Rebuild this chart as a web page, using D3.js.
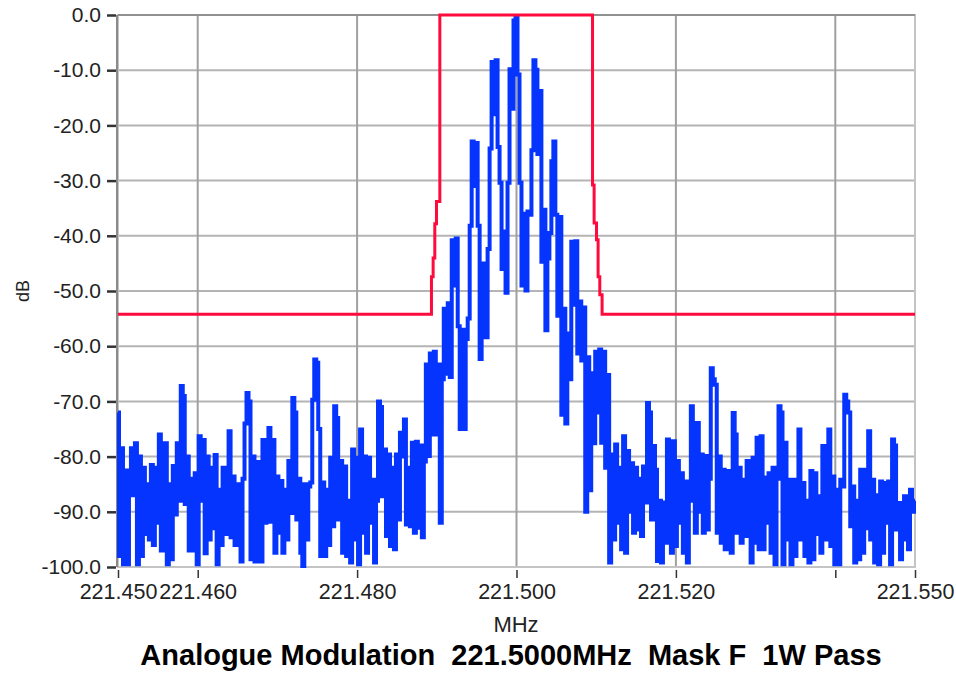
<!DOCTYPE html>
<html>
<head>
<meta charset="utf-8">
<script src="https://cdn.jsdelivr.net/npm/d3@7"></script>
<style>
  body { margin: 0; background: #fff; }
  svg { display: block; font-family: "Liberation Sans", Arial, sans-serif; }
</style>
</head>
<body>
<svg id="chart" width="956" height="675"></svg>
<script>
// x axis ticks (MHz); 221.540 has a tick but no label
const xTickValues = [221.45, 221.46, 221.48, 221.50, 221.52, 221.54, 221.55];
const xTickLabels = ["221.450", "221.460", "221.480", "221.500", "221.520", "", "221.550"];
const xGridValues = [221.46, 221.48, 221.50, 221.52, 221.54];

const yTickValues = [0, -10, -20, -30, -40, -50, -60, -70, -80, -90, -100];
const yTickLabels = ["0.0", "-10.0", "-20.0", "-30.0", "-40.0", "-50.0", "-60.0", "-70.0", "-80.0", "-90.0", "-100.0"];

// spectrum trace, one value every 0.25 kHz from 221.450 MHz
const freqStart = 221.45;
const freqStep = 0.00025;
const spectrumDb = [
    -72, -98, -78.5, -99.5, -82.5, -99.5, -87, -78.5, -87, -77.6,
    -99.5, -80, -98, -82, -94, -85, -95, -81.5, -96, -82,
    -92, -76, -97, -80, -77.6, -99.5, -85, -98.6, -81.7, -90.5,
    -77.6, -88, -67.2, -69, -88.6, -80, -97, -84, -97, -83,
    -99.5, -76.3, -88, -77, -97.5, -80, -95, -82, -93, -79.7,
    -99.5, -86, -96, -82, -94, -84, -75.4, -94.6, -83.6, -96,
    -85, -92, -99, -84, -74, -68.5, -70, -98.6, -80, -99,
    -81, -95, -99, -77, -92, -85, -74.8, -91.8, -77, -97.4,
    -83.6, -93.8, -84.4, -97.4, -86, -95, -80.8, -90.2, -69.4, -72,
    -91.4, -84, -97.4, -99.8, -85, -95, -85.4, -84.7, -69.7, -62.4,
    -63, -75, -98, -84.7, -98, -86, -96, -80.2, -92.6, -70.9,
    -73, -91.4, -80.8, -97.4, -81.8, -98, -88, -99.2, -78.7, -95,
    -80.2, -99.5, -75.1, -93.8, -80, -97.4, -80.2, -92, -84.2, -99.2,
    -88, -70, -71, -87.2, -78.7, -94.4, -79.6, -96.2, -82, -96.8,
    -79.6, -91.4, -75.7, -80, -73.3, -92.3, -82, -92.6, -77.5, -93.8,
    -77.3, -92.9, -78, -94.6, -80.9, -63.3, -79.9, -61.3, -76, -61,
    -76, -63.3, -92, -66, -53.2, -65, -52.2, -65.6, -40.8, -49,
    -40.5, -56.4, -75, -57, -75, -58.7, -55, -38.2, -22.9, -31,
    -23.2, -38.2, -62.3, -58.4, -45, -58.4, -42.4, -24.2, -8.5, -18,
    -8.2, -23.9, -30.4, -46, -39.2, -50.3, -30.4, -9.85, -17, -1,
    -0.4, -10.8, -30.4, -49, -36, -49.9, -35.6, -36.2, -24.5, -8.2,
    -9.9, -25.2, -13.75, -44.7, -35.3, -57.1, -44.1, -39.5, -26.5, -22.9,
    -36.2, -54.5, -36.6, -72.4, -53.2, -74, -57.7, -66, -41.1, -52.5,
    -41, -61.3, -51.9, -62.6, -53, -90, -62, -86.1, -64.9, -77.6,
    -61, -72, -60.6, -77.5, -61, -82, -65.2, -99.2, -79.6, -95,
    -77.8, -92, -82, -96.8, -76.3, -97.4, -79, -90, -81.2, -93.8,
    -82, -93.2, -84, -94.4, -81.8, -88.3, -70.3, -72, -91.4, -78.1,
    -82.4, -98.9, -88, -99.2, -88.3, -95.6, -76.9, -85, -97.4, -77.2,
    -96.2, -80.8, -92, -83, -97.4, -84.5, -99.2, -88, -70.9, -74,
    -93.8, -73.9, -90, -79.6, -93.8, -79.9, -93.2, -84, -64, -66,
    -67, -93.8, -80, -95.6, -82.4, -96.8, -82.6, -92, -97.4, -72.1,
    -76, -93.8, -82, -95.6, -84.2, -94.4, -80.8, -90, -99.2, -80.2,
    -95.6, -76.6, -96.8, -76.3, -96.8, -83.8, -92, -83, -97.4, -82,
    -99.5, -84, -70.9, -72, -99.5, -77.5, -95, -84.2, -99.5, -84.2,
    -98, -90, -75.1, -95, -84.8, -98, -88, -99.2, -82.6, -98.6,
    -83, -94, -87.2, -97.4, -78.1, -95, -85, -75.1, -96.2, -83.6,
    -99.5, -86, -99.5, -84.2, -85.4, -68.8, -70, -72, -92.6, -85.4,
    -99.2, -88, -98.6, -82.4, -97.4, -82.4, -93, -75.4, -95, -84.2,
    -99.2, -87, -99.5, -84.5, -97.4, -84.8, -92, -84.5, -99.5, -76.9,
    -78, -93.2, -88.4, -98.6, -92, -87.2, -95, -96.8, -86, -90,
    -88
];

// spectrum mask (red)
const maskFreq = [221.45, 221.48933, 221.48933, 221.48954, 221.48954, 221.48975, 221.48975,
    221.48996, 221.48996, 221.49038, 221.49038, 221.50954, 221.50954, 221.50974, 221.50974,
    221.51004, 221.51004, 221.51024, 221.51024, 221.51045, 221.51045, 221.51074, 221.51074, 221.55];
const maskDb = [-54.2, -54.2, -47.4, -47.4, -44.0, -44.0, -37.8, -37.8, -33.8, -33.8, 0, 0,
    -30.8, -30.8, -37.7, -37.7, -40.7, -40.7, -47.4, -47.4, -50.7, -50.7, -54.2, -54.2];

const titleText = "Analogue Modulation  221.5000MHz  Mask F  1W Pass";
const xTitle = "MHz";
const yTitle = "dB";

const plot = { left: 118, right: 915, top: 15, bottom: 567 };

const svg = d3.select("#chart");

const x = d3.scaleLinear().domain([221.45, 221.55]).range([plot.left, plot.right]);
const y = d3.scaleLinear().domain([-100, 0]).range([plot.bottom, plot.top]);

svg.append("rect").attr("width", 956).attr("height", 675).attr("fill", "#fff");

// grid
svg.append("g")
    .selectAll("line")
    .data(yTickValues.filter((d) => d < 0 && d > -100))
    .join("line")
    .attr("x1", plot.left).attr("x2", plot.right)
    .attr("y1", (d) => y(d)).attr("y2", (d) => y(d))
    .attr("stroke", "#b4b4b4").attr("stroke-width", 2);

svg.append("g")
    .selectAll("line")
    .data(xGridValues)
    .join("line")
    .attr("x1", (d) => x(d)).attr("x2", (d) => x(d))
    .attr("y1", plot.top).attr("y2", plot.bottom)
    .attr("stroke", "#a0a0a0").attr("stroke-width", 2);

// plot frame
svg.append("rect")
    .attr("x", plot.left).attr("y", plot.top)
    .attr("width", plot.right - plot.left).attr("height", plot.bottom - plot.top)
    .attr("fill", "none").attr("stroke", "#c4c4c4").attr("stroke-width", 2);
svg.append("line")
    .attr("x1", plot.left).attr("x2", plot.right)
    .attr("y1", plot.top).attr("y2", plot.top)
    .attr("stroke", "#909090").attr("stroke-width", 2);
svg.append("line")
    .attr("x1", plot.left - 1).attr("x2", plot.left - 1)
    .attr("y1", plot.top).attr("y2", plot.bottom)
    .attr("stroke", "#8a8a8a").attr("stroke-width", 2);

svg.append("defs").append("clipPath").attr("id", "clip")
    .append("rect")
    .attr("x", plot.left - 1).attr("y", plot.top - 2)
    .attr("width", plot.right - plot.left + 2).attr("height", plot.bottom - plot.top + 3);

// blue trace
const line = d3.line()
    .x((d, i) => x(freqStart + i * freqStep))
    .y((d) => y(Math.max(-100, d)))
    .curve(d3.curveStep);

svg.append("path")
    .datum(spectrumDb)
    .attr("clip-path", "url(#clip)")
    .attr("fill", "none")
    .attr("stroke", "#0534ff")
    .attr("stroke-width", 4)
    .attr("stroke-linejoin", "miter")
    .attr("d", line);

// red mask
const maskLine = d3.line()
    .x((d, i) => x(maskFreq[i]))
    .y((d) => y(d));

svg.append("path")
    .datum(maskDb)
    .attr("fill", "none")
    .attr("stroke", "#ff0a3c")
    .attr("stroke-width", 3)
    .attr("d", maskLine);

// y axis
const yAxis = d3.axisLeft(y)
    .tickValues(yTickValues)
    .tickFormat((d, i) => yTickLabels[i])
    .tickSize(12)
    .tickPadding(5);

const gy = svg.append("g")
    .attr("transform", `translate(${plot.left - 2},0)`)
    .call(yAxis);
gy.select(".domain").remove();
gy.selectAll(".tick line").attr("stroke", "#333").attr("stroke-width", 2.5).attr("x2", -9);
gy.selectAll(".tick text")
    .attr("x", -15)
    .attr("fill", "#222")
    .style("font-size", "21px")
    .style("font-family", "Liberation Sans, Arial, sans-serif");

// x axis
const xAxis = d3.axisBottom(x)
    .tickValues(xTickValues)
    .tickFormat((d, i) => xTickLabels[i])
    .tickSize(8)
    .tickPadding(6);

const gx = svg.append("g")
    .attr("transform", `translate(0,${plot.bottom + 3})`)
    .call(xAxis);
gx.select(".domain").remove();
gx.selectAll(".tick line").attr("stroke", "#333").attr("stroke-width", 1.5);
gx.selectAll(".tick text")
    .attr("fill", "#222")
    .style("font-size", "21.5px")
    .style("font-family", "Liberation Sans, Arial, sans-serif");

// axis titles
svg.append("text")
    .attr("x", 516).attr("y", 632)
    .attr("text-anchor", "middle")
    .attr("fill", "#222")
    .style("font-size", "22px")
    .text(xTitle);

svg.append("text")
    .attr("transform", "translate(29,291) rotate(-90)")
    .attr("text-anchor", "middle")
    .attr("fill", "#222")
    .style("font-size", "18px")
    .text(yTitle);

svg.append("text")
    .attr("x", 511).attr("y", 665)
    .attr("text-anchor", "middle")
    .attr("fill", "#000")
    .style("font-size", "29px")
    .style("font-weight", "bold")
    .style("white-space", "pre")
    .text(titleText);
</script>
</body>
</html>
